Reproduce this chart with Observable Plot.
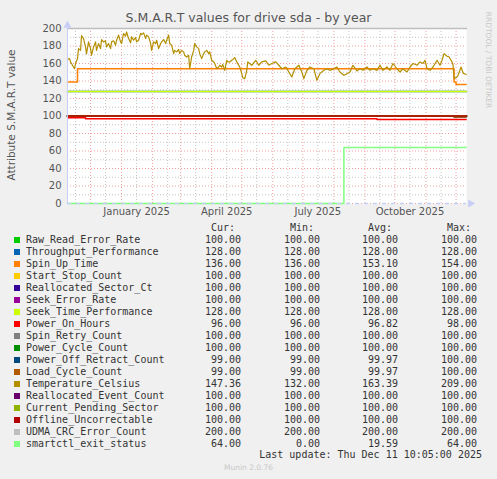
<!DOCTYPE html>
<html><head><meta charset="utf-8">
<script src="https://cdn.jsdelivr.net/npm/d3@7"></script>
<script src="https://cdn.jsdelivr.net/npm/@observablehq/plot@0.6"></script>
<style>
html,body{margin:0;padding:0;background:#F0F0F0;}
#wrap{position:relative;width:497px;height:479px;overflow:hidden;background:#F0F0F0;font-family:"DejaVu Sans",sans-serif;}
#chart{position:absolute;left:0;top:0;}
.t{position:absolute;white-space:pre;}
.mono{font-family:"DejaVu Sans Mono",monospace;font-size:10px;color:#333;line-height:12px;}
</style>
</head><body>
<div id="wrap"><div id="chart"></div></div>
<script>
// ---- data ----
const startDate = "2024-11-08T00:00Z";
const endDate = "2025-12-11T10:00Z";

const tempDates = ["2024-11-08","2024-11-10","2024-11-11","2024-11-13","2024-11-15","2024-11-16","2024-11-18","2024-11-19","2024-11-21","2024-11-22","2024-11-24","2024-11-26","2024-11-27","2024-11-29","2024-12-01","2024-12-02","2024-12-04","2024-12-06","2024-12-07","2024-12-09","2024-12-11","2024-12-12","2024-12-14","2024-12-16","2024-12-17","2024-12-19","2024-12-21","2024-12-22","2024-12-24","2024-12-26","2024-12-27","2024-12-29","2024-12-31","2025-01-01","2025-01-03","2025-01-05","2025-01-06","2025-01-08","2025-01-10","2025-01-11","2025-01-13","2025-01-15","2025-01-16","2025-01-18","2025-01-20","2025-01-21","2025-01-23","2025-01-25","2025-01-26","2025-01-28","2025-01-30","2025-01-31","2025-02-02","2025-02-04","2025-02-05","2025-02-07","2025-02-09","2025-02-10","2025-02-12","2025-02-14","2025-02-15","2025-02-17","2025-02-18","2025-02-20","2025-02-22","2025-02-23","2025-02-25","2025-02-27","2025-02-28","2025-03-02","2025-03-04","2025-03-05","2025-03-07","2025-03-09","2025-03-10","2025-03-12","2025-03-14","2025-03-15","2025-03-17","2025-03-19","2025-03-20","2025-03-22","2025-03-24","2025-03-25","2025-03-27","2025-03-29","2025-03-30","2025-04-01","2025-04-03","2025-04-04","2025-04-06","2025-04-08","2025-04-09","2025-04-11","2025-04-12","2025-04-14","2025-04-16","2025-04-17","2025-04-19","2025-04-21","2025-04-22","2025-04-24","2025-04-26","2025-04-27","2025-04-29","2025-05-01","2025-05-02","2025-05-04","2025-05-06","2025-05-07","2025-05-11","2025-05-15","2025-05-18","2025-05-21","2025-05-25","2025-05-28","2025-05-31","2025-06-04","2025-06-07","2025-06-10","2025-06-14","2025-06-17","2025-06-20","2025-06-23","2025-06-27","2025-06-30","2025-07-02","2025-07-05","2025-07-08","2025-07-12","2025-07-15","2025-07-18","2025-07-22","2025-07-25","2025-07-28","2025-08-01","2025-08-04","2025-08-07","2025-08-11","2025-08-14","2025-08-17","2025-08-20","2025-08-24","2025-08-27","2025-08-30","2025-09-03","2025-09-06","2025-09-09","2025-09-13","2025-09-16","2025-09-19","2025-09-23","2025-09-26","2025-09-29","2025-10-03","2025-10-06","2025-10-09","2025-10-13","2025-10-16","2025-10-19","2025-10-23","2025-10-26","2025-10-29","2025-10-31","2025-11-02","2025-11-05","2025-11-08","2025-11-12","2025-11-15","2025-11-17","2025-11-19","2025-11-22","2025-11-24","2025-11-27","2025-11-28","2025-11-29","2025-12-02","2025-12-03","2025-12-06","2025-12-08","2025-12-11"];
const tempValues = [164.5,165.6,161.8,158,154,160,165.6,177,175,192,188.5,179,171,184.7,177,169.4,179,184.7,175,182.8,177,187.4,184.7,185.9,179,182.8,177,184.7,185.9,180.9,186.6,192.4,184.7,182.8,194.3,191.2,196.2,188.5,183.6,190.4,186.6,189.7,184.7,186.6,194.3,193.1,195,188.5,192.4,190.4,182.8,175,184.7,182.8,186.6,177,182.8,184.7,187.4,182.8,186.6,192.4,182.8,180.9,171.3,175,173.3,176,171.3,175,173.3,169.4,167.5,169.4,154,167.5,175,182.8,179,177,171.3,165.6,171.3,173.3,175,171.3,173.3,163.7,161.8,159.9,154.2,156,158,156,159,152.2,163.7,161.8,161.8,163.7,164.5,166.8,161.8,159.9,156,148.4,143.8,142.7,152.2,161.8,158,163.7,158,161.8,163,158,160,161.8,158,154,156,150.3,144.6,154,158,150.3,142.7,152,156,154,140.8,148.4,152.2,154,152.2,154,156,150.3,146.5,148.4,150.3,158,151.5,154,152.2,156,152.2,154,152.2,158,152.2,156,152.2,160,154,150.3,154,150.3,156,160,158,161.8,160,163.7,154,152.2,156,163.7,158,163.7,171.3,168.3,167.5,161.8,158,142.7,144.6,146.5,156,149,147.4];

const spinUpDates = ["2024-11-08","2024-11-18","2025-11-29","2025-12-01","2025-12-11"];
const spinUpValues = [139,154,139,136,136];
const powerOnDates = ["2024-11-08","2024-11-26","2025-09-13","2025-12-11"];
const powerOnValues = [98,97,96,96];
const retractDates = ["2024-11-08","2025-11-29","2025-12-11"];
const retractValues = [100,99,99];
const exitDates = ["2024-11-08","2025-08-11","2025-12-11"];
const exitValues = [0,64,64];

const names = ["Raw_Read_Error_Rate","Throughput_Performance","Spin_Up_Time","Start_Stop_Count","Reallocated_Sector_Ct","Seek_Error_Rate","Seek_Time_Performance","Power_On_Hours","Spin_Retry_Count","Power_Cycle_Count","Power_Off_Retract_Count","Load_Cycle_Count","Temperature_Celsius","Reallocated_Event_Count","Current_Pending_Sector","Offline_Uncorrectable","UDMA_CRC_Error_Count","smartctl_exit_status"];
const colors = ["#00CC00","#0066B3","#FF8000","#FFCC00","#330099","#990099","#CCFF00","#FF0000","#808080","#008F00","#00487D","#B35A00","#B38F00","#6B006B","#8FB300","#B30000","#BEBEBE","#80FF80"];
const curVals = ["100.00","128.00","136.00","100.00","100.00","100.00","128.00","96.00","100.00","100.00","99.00","99.00","147.36","100.00","100.00","100.00","200.00","64.00"];
const minVals = ["100.00","128.00","136.00","100.00","100.00","100.00","128.00","96.00","100.00","100.00","99.00","99.00","132.00","100.00","100.00","100.00","200.00","0.00"];
const avgVals = ["100.00","128.00","153.10","100.00","100.00","100.00","128.00","96.82","100.00","100.00","99.97","99.97","163.39","100.00","100.00","100.00","200.00","19.59"];
const maxVals = ["100.00","128.00","154.00","100.00","100.00","100.00","128.00","98.00","100.00","100.00","100.00","100.00","209.00","100.00","100.00","100.00","200.00","64.00"];
const constantValues = {0:100,1:128,3:100,4:100,5:100,6:128,8:100,9:100,13:100,14:100,15:100,16:200};

const xLabelDates = ["2025-01-16","2025-04-16","2025-07-16","2025-10-16"];
const xLabelTexts = ["January 2025","April 2025","July 2025","October 2025"];
const yTicks = [0,20,40,60,80,100,120,140,160,180,200];

// ---- build series ----
const pd = s => new Date(s.length > 10 ? s : s + "T00:00Z");
function series(dates, values){ return dates.map((d,i)=>({date:pd(d), v:values[i]})); }
const seriesData = names.map((n,i)=>{
  if (i in constantValues) return series([startDate,endDate],[constantValues[i],constantValues[i]]);
  if (i===2) return series(spinUpDates, spinUpValues);
  if (i===7) return series(powerOnDates, powerOnValues);
  if (i===10 || i===11) return series(retractDates, retractValues);
  if (i===12) return series(tempDates, tempValues);
  if (i===17) return series(exitDates, exitValues);
});

const x0 = pd(startDate), x1 = pd(endDate);
const monthStarts = d3.utcMonth.range(d3.utcMonth.ceil(x0), x1);
const midMonths = d3.utcMonth.range(d3.utcMonth.floor(x0), x1).map(d=>d3.utcDay.offset(d,15)).filter(d=>d>x0 && d<x1);

const marks = [
  Plot.frame({fill:"white", stroke:null}),
  Plot.gridY(d3.range(10,200,20), {stroke:"#c4c4c4", strokeOpacity:1, strokeDasharray:"1,2"}),
  Plot.gridX(midMonths, {stroke:"#c4c4c4", strokeOpacity:1, strokeDasharray:"1,2"}),
  Plot.gridY(yTicks, {stroke:"#f2a0a0", strokeOpacity:1, strokeDasharray:"1,2"}),
  Plot.gridX(monthStarts, {stroke:"#f2a0a0", strokeOpacity:1, strokeDasharray:"1,2"}),
];
seriesData.forEach((s,i)=>{
  const isTemp = i===12;
  marks.push(Plot.line(s, {x:"date", y:"v", stroke:colors[i], strokeWidth: isTemp ? 1.2 : 1.5,
    curve: isTemp ? "linear" : "step-after"}));
});
marks.push(
  Plot.ruleY([0], {stroke:"#c8cdf5", strokeWidth:1.3, strokeDasharray:"4,5"}),
  Plot.ruleX([x0], {stroke:"#c8cdf5", strokeWidth:1}),
  Plot.dot([{d:x0, v:200}], {x:"d", y:"v", symbol:"triangle", r:3, fill:"#c8cdf5", stroke:null, dy:-3}),
  Plot.dot([{d:x1, v:0}], {x:"d", y:"v", symbol:"triangle", r:3, fill:"#c8cdf5", stroke:null, rotate:90, dx:4}),
  Plot.axisY({ticks:yTicks, tickSize:0, tickPadding:6, fontSize:10, fill:"#555", label:null}),
  Plot.axisX(xLabelDates.map(pd), {tickSize:0, tickPadding:4, fontSize:10, fill:"#555", label:null,
    tickFormat:(d,i)=>xLabelTexts[i]})
);

const chart = Plot.plot({
  width:497, height:225,
  marginLeft:67, marginRight:31, marginTop:28, marginBottom:22,
  style:{background:"transparent", fontFamily:"DejaVu Sans", overflow:"visible"},
  x:{type:"utc", domain:[x0,x1]},
  y:{domain:[0,200]},
  marks
});
document.getElementById("chart").appendChild(chart);

// ---- texts ----
const wrap = document.getElementById("wrap");
function addText(txt, css, cls){ const d=document.createElement("div"); d.className="t"+(cls?" "+cls:""); d.textContent=txt; d.style.cssText+=css; wrap.appendChild(d); return d; }
addText("S.M.A.R.T values for drive sda - by year", "left:0;width:497px;text-align:center;top:10px;font-size:12.5px;color:#555;");
addText("Attribute S.M.A.R.T value", "left:11px;top:115px;font-size:10.5px;color:#555;transform:translate(-50%,-50%) rotate(-90deg);");
addText("RRDTOOL / TOBI OETIKER", "left:488px;top:60px;font-size:7.5px;color:#c8c8c8;transform:translate(-50%,-50%) rotate(90deg);");

const colRight = [241, 320, 398, 477];
const headers = ["Cur:","Min:","Avg:","Max:"];
headers.forEach((h,j)=>addText(h, `top:222px;right:${497-colRight[j]+6}px;`, "mono"));
names.forEach((n,i)=>{
  const top = 234 + 12*i;
  const sq = document.createElement("div");
  sq.style.cssText = `position:absolute;left:14px;top:${top+3}px;width:6px;height:6px;background:${colors[i]};`;
  wrap.appendChild(sq);
  addText(n, `left:26px;top:${top}px;`, "mono");
  [curVals[i],minVals[i],avgVals[i],maxVals[i]].forEach((v,j)=>addText(v, `top:${top}px;right:${497-colRight[j]}px;`, "mono"));
});
addText("Last update: Thu Dec 11 10:05:00 2025", "top:449px;right:15px;", "mono");
addText("Munin 2.0.76", "left:0;width:497px;text-align:center;top:463px;font-size:7.5px;color:#c8c8c8;");
</script>
</body></html>
